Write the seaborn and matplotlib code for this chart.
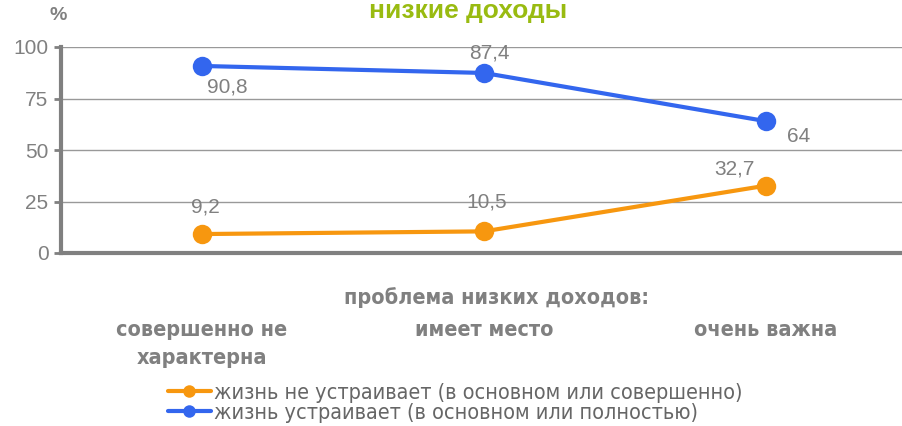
import pandas as pd
import matplotlib
matplotlib.use("Agg")
import matplotlib.pyplot as plt
import seaborn as sns

# data
categories = ["совершенно не\nхарактерна", "имеет место", "очень важна"]
series_names = ["жизнь не устраивает (в основном или совершенно)",
                "жизнь устраивает (в основном или полностью)"]
not_satisfied = [9.2, 10.5, 32.7]
satisfied = [90.8, 87.4, 64]
y_ticks = [0, 25, 50, 75, 100]

colors = ["#f7970f", "#3366ee"]
grey = "#808080"

sns.set_theme(style="white")
plt.rcParams['font.family'] = ['Liberation Sans', 'DejaVu Sans']
narrow = ['DejaVu Sans']

rows = []
for name, vals in zip(series_names, [not_satisfied, satisfied]):
    for i, v in enumerate(vals):
        rows.append({"pos": i, "value": v, "series": name})
df = pd.DataFrame(rows)

fig = plt.figure(figsize=(9.02, 4.26), dpi=100)
ax = fig.add_axes([61 / 902, 1 - 253 / 426, 846 / 902, 206 / 426])

sns.lineplot(data=df, x="pos", y="value", hue="series", palette=colors,
             marker="o", markersize=14, markeredgewidth=0, linewidth=3,
             ax=ax, legend=True)

ax.set_xlim(-0.5, 2.5)
ax.set_ylim(0, 100)
ax.set_yticks(y_ticks)
ax.set_yticklabels([str(t) for t in y_ticks], fontsize=15, color=grey)
ax.yaxis.grid(True, color="#999999", linewidth=1)
ax.set_axisbelow(True)

ax.set_xticks(range(len(categories)))
ax.set_xticklabels(categories, fontsize=15.5, fontweight="bold", color=grey,
                   family=narrow, fontstretch="condensed", linespacing=1.5)
ax.tick_params(axis="x", which="major", length=0, pad=48)
ax.set_xticks([-0.5, 0.5, 1.5], minor=True)
ax.tick_params(axis="x", which="minor", length=6, width=2, color=grey, direction="out")
ax.tick_params(axis="y", length=5, width=2, color=grey, direction="out", left=True, pad=4)
ax.set_xlabel("")
ax.set_ylabel("")

for side in ["top", "right"]:
    ax.spines[side].set_visible(False)
for side in ["left", "bottom"]:
    ax.spines[side].set_color(grey)
    ax.spines[side].set_linewidth(3)

# data labels
offsets_not = [(3, 27), (3, 29), (-32, 17)]
offsets_sat = [(25, -21), (5, 20), (33, -15)]
for vals, offs in [(not_satisfied, offsets_not), (satisfied, offsets_sat)]:
    for i, v in enumerate(vals):
        ax.annotate(f"{v:g}".replace(".", ","), (i, v), xytext=offs[i],
                    textcoords="offset pixels", ha="center", va="center",
                    fontsize=15, color=grey)

fig.text(468 / 902, 1 - 11 / 426, "низкие доходы", ha="center", va="center",
         fontsize=19, fontweight="bold", color="#99bb11")
fig.text(58 / 902, 1 - 16 / 426, "%", ha="center", va="center",
         fontsize=14, fontweight="bold", color=grey)
fig.text(496 / 902, 1 - 298 / 426, "проблема низких доходов:", ha="center",
         va="center", fontsize=15.5, fontweight="bold", color=grey, family=narrow,
         fontstretch="condensed")

handles, labels = ax.get_legend_handles_labels()
ax.get_legend().remove()
leg = fig.legend(handles, labels, loc="center", bbox_to_anchor=(455 / 902, 1 - 403 / 426),
                 frameon=False, handlelength=2.0, handletextpad=0.15, labelspacing=0.0,
                 borderpad=0.1, prop={"family": narrow, "size": 15.5, "stretch": "condensed"})
for t in leg.get_texts():
    t.set_color("#666666")
for h in leg.legend_handles:
    h.set_markersize(9)

fig.savefig("out.png", dpi=100)
